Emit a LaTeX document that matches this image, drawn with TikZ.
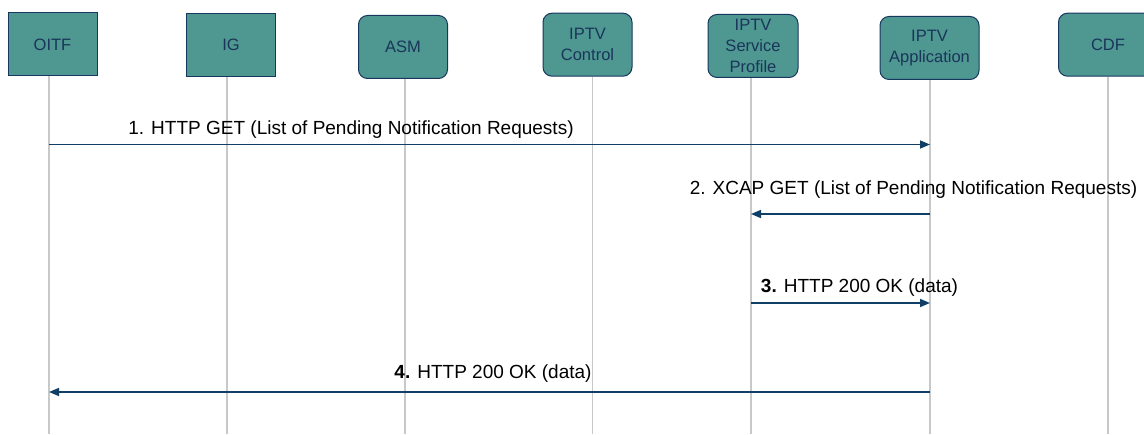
\documentclass[tikz,border=0pt]{standalone}
\usepackage{fontspec}
\setmainfont{Liberation Sans}
\usetikzlibrary{arrows.meta}
\definecolor{boxfill}{HTML}{4F9791}
\definecolor{boxline}{HTML}{17375E}
\definecolor{boxtext}{HTML}{1A355A}
\definecolor{msg}{HTML}{0F3E66}
\definecolor{life}{HTML}{C8C8C8}
\tikzset{
  entity/.style={draw=boxline, fill=boxfill, line width=1pt, text=boxtext,
    font=\fontsize{16.5}{21}\selectfont, align=center, inner sep=0pt,
    minimum width=89pt, minimum height=63pt},
  roundentity/.style={entity, rounded corners=9pt},
  lifeline/.style={draw=life, line width=1.2pt},
  message/.style={draw=msg, line width=1.6pt, -{Triangle[length=10pt,width=8pt]}},
  msglabel/.style={font=\fontsize{19}{22}\selectfont, anchor=base, inner sep=0pt}
}
\begin{document}
\begin{tikzpicture}[x=1pt,y=-1pt]
\useasboundingbox (0,0) rectangle (1144,435);
\begin{scope}
\clip (0,0) rectangle (1144,435);
% lifelines
\foreach \nm/\x/\y in {oitf/49/76, ig/227/76, asm/405/79, ctl/592.5/77, prof/751/78, app/930/80, cdf/1108/77}{
  \coordinate (\nm top) at (\x,\y);
  \coordinate (\nm bot) at (\x,434);
  \draw[lifeline] (\nm top) -- (\nm bot);
}
% entities
\node[entity] (oitf) at (52.5,44.5) {OITF};
\node[entity] (ig) at (231,44.7) {IG};
\node[roundentity] (asm) at (403,47) {ASM};
\node[roundentity] (ctl) at (587.5,44.7) {IPTV\\Control};
\node[roundentity, minimum width=90pt] (prof) at (753,46) {IPTV\\Service\\Profile};
\node[roundentity, minimum width=99pt] (app) at (929.5,48) {IPTV\\Application};
\node[roundentity, minimum width=99pt] (cdf) at (1108,44.7) {CDF};
\end{scope}
% message points
\coordinate (m1a) at (49,144.5);   \coordinate (m1b) at (930,144.5);
\coordinate (m2a) at (930,214);    \coordinate (m2b) at (751,214);
\coordinate (m3a) at (751,303);    \coordinate (m3b) at (930,303);
\coordinate (m4a) at (930,392);    \coordinate (m4b) at (49,392);
\draw[message] (m1a) -- (m1b);
\draw[message] (m2a) -- (m2b);
\draw[message] (m3a) -- (m3b);
\draw[message] (m4a) -- (m4b);
\node[msglabel] (l1) at (351,135) {1. HTTP GET (List of Pending Notification Requests)};
\node[msglabel] (l2) at (913.5,195) {2. XCAP GET (List of Pending Notification Requests)};
\node[msglabel] (l3) at (859.5,293) {\textbf{3.} HTTP 200 OK (data)};
\node[msglabel] (l4) at (493,379) {\textbf{4.} HTTP 200 OK (data)};
\end{tikzpicture}
\end{document}
